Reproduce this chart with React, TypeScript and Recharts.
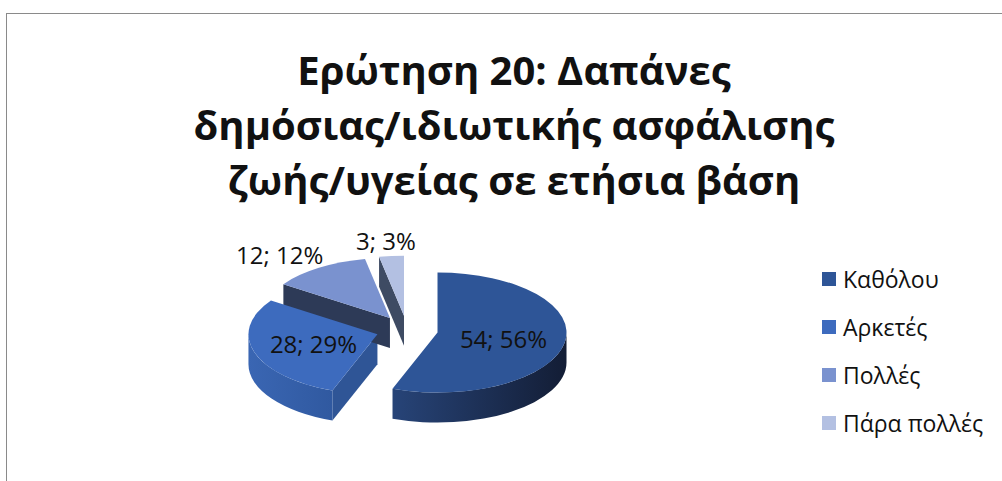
import React from 'react';
import { PieChart, Pie, Legend } from 'recharts';

// ---- data ----
const categories = ['Καθόλου', 'Αρκετές', 'Πολλές', 'Πάρα πολλές'];
const counts = [54, 28, 12, 3];
const titleLines = ['Ερώτηση 20: Δαπάνες', 'δημόσιας/ιδιωτικής ασφάλισης', 'ζωής/υγείας σε ετήσια βάση'];

// ---- styles ----
const topColors = ['#2E5597', '#3D6BBE', '#7A92CF', '#B3C0E2'];
const sideLight = ['#274478', '#3A66B3', '#2E3C5A', '#3F4C65'];
const sideDark = ['#131D35', '#3059A0', '#2A3652', '#3A465E'];
const radialColors = ['#1D3158', '#2F5596', '#2D3A57', '#3E4B63'];

const data = categories.map((name, i) => ({ name, value: counts[i] }));

const FONT = '"Open Sans", "Noto Sans", sans-serif';
const K = 60 / 129; // vertical squash of the tilted pie
const DEPTH = 30;
const EXPLODE = 31;
const RAD = Math.PI / 180;

function P(cx: number, cy: number, r: number, a: number): [number, number] {
  return [cx + r * Math.cos(a * RAD), cy - r * K * Math.sin(a * RAD)];
}

function idxOf(props: any): number {
  const n = props.name ?? props.payload?.name;
  const i = categories.indexOf(n);
  return i < 0 ? (props.index ?? 0) : i;
}

function apexOf(props: any): [number, number] {
  const { cx, cy, startAngle, endAngle } = props;
  const m = (startAngle + endAngle) / 2;
  return [cx + EXPLODE * Math.cos(m * RAD), cy - EXPLODE * K * Math.sin(m * RAD)];
}

function SideShape(props: any) {
  const { startAngle: s, endAngle: e, outerRadius: r } = props;
  const i = idxOf(props);
  const [ax, ay] = apexOf(props);
  const ry = r * K;
  const quad = (a: number) => {
    const [x, y] = P(ax, ay, r, a);
    return `M${ax},${ay} L${x},${y} L${x},${y + DEPTH} L${ax},${ay + DEPTH} Z`;
  };
  const parts: React.ReactNode[] = [];
  if (Math.sin((s + 90) * RAD) < -0.01) parts.push(<path key="rs" d={quad(s)} fill={radialColors[i]} />);
  if (Math.sin((e - 90) * RAD) < -0.01) parts.push(<path key="re" d={quad(e)} fill={radialColors[i]} />);
  const hi = Math.min(s, 0);
  const lo = Math.max(e, -180);
  const gid = `side-grad-${i}`;
  if (hi > lo) {
    const [x1, y1] = P(ax, ay, r, hi);
    const [x2, y2] = P(ax, ay, r, lo);
    const large = hi - lo > 180 ? 1 : 0;
    const d = `M${x1},${y1} A${r},${ry} 0 ${large} 1 ${x2},${y2} L${x2},${y2 + DEPTH} A${r},${ry} 0 ${large} 0 ${x1},${y1 + DEPTH} Z`;
    parts.push(<path key="c" d={d} fill={`url(#${gid})`} />);
  }
  return (
    <g>
      <defs>
        <linearGradient id={gid} x1="0" y1="0" x2="1" y2="0">
          <stop offset="0%" stopColor={sideLight[i]} />
          <stop offset="100%" stopColor={sideDark[i]} />
        </linearGradient>
      </defs>
      {parts}
    </g>
  );
}

function TopShape(props: any) {
  const { startAngle: s, endAngle: e, outerRadius: r } = props;
  const i = idxOf(props);
  const [ax, ay] = apexOf(props);
  const [sx, sy] = P(ax, ay, r, s);
  const [ex, ey] = P(ax, ay, r, e);
  const large = s - e > 180 ? 1 : 0;
  const d = `M${ax},${ay} L${sx},${sy} A${r},${r * K} 0 ${large} 1 ${ex},${ey} Z`;
  return <path d={d} fill={topColors[i]} />;
}

function renderLabel(props: any) {
  const { startAngle: s, endAngle: e, outerRadius: r, percent, value } = props;
  const [ax, ay] = apexOf(props);
  const m = (s + e) / 2;
  const text = `${value}; ${Math.round(percent * 100)}%`;
  const inside = percent > 0.2;
  let x: number;
  let y: number;
  if (inside) {
    [x, y] = P(ax, ay, r * 0.52, m);
  } else {
    const [px, py] = P(ax, ay, r * 1.2, m);
    const half = text.length * 6.5;
    x = px + Math.cos(m * RAD) * half;
    y = py - Math.sin(m * RAD) * 4;
  }
  return (
    <text
      x={x}
      y={y}
      textAnchor="middle"
      dominantBaseline="central"
      fill="#111"
      style={{ fontFamily: FONT, fontSize: 24 }}
    >
      {text}
    </text>
  );
}

function LegendContent() {
  return (
    <div style={{ fontFamily: FONT, fontSize: 23, color: '#111' }}>
      {categories.map((c, i) => (
        <div key={c} style={{ display: 'flex', alignItems: 'center', height: 48, whiteSpace: 'nowrap' }}>
          <span style={{ display: 'inline-block', width: 14, height: 14, background: topColors[i], marginRight: 7 }} />
          <span>{c}</span>
        </div>
      ))}
    </div>
  );
}

export default function App() {
  return (
    <div style={{ position: 'fixed', left: 0, top: 0, width: 1002, height: 481, overflow: 'hidden', background: '#fff' }}>
      <div
        style={{
          position: 'absolute',
          left: 6,
          top: 13,
          width: 1040,
          height: 520,
          border: '1px solid #8a8a8a',
          boxSizing: 'border-box',
        }}
      />
      <div style={{ position: 'absolute', left: 0, top: 0 }}>
        <PieChart width={1002} height={481} margin={{ top: 0, right: 0, bottom: 0, left: 0 }}>
          <Pie
            data={data}
            dataKey="value"
            nameKey="name"
            cx={407}
            cy={330}
            outerRadius={129}
            startAngle={90}
            endAngle={-270}
            stroke="none"
            isAnimationActive={false}
            shape={SideShape as any}
            inactiveShape={SideShape as any}
            activeShape={SideShape as any}
            legendType="none"
          />
          <Pie
            data={data}
            dataKey="value"
            nameKey="name"
            cx={407}
            cy={330}
            outerRadius={129}
            startAngle={90}
            endAngle={-270}
            stroke="none"
            isAnimationActive={false}
            shape={TopShape as any}
            inactiveShape={TopShape as any}
            activeShape={TopShape as any}
            label={renderLabel}
            labelLine={false}
          />
          <Legend
            layout="vertical"
            align="right"
            verticalAlign="middle"
            content={LegendContent as any}
            wrapperStyle={{ position: 'absolute', left: 822, top: 255, width: 180, right: 'auto', bottom: 'auto' }}
          />
        </PieChart>
      </div>
      <div
        style={{
          position: 'absolute',
          left: 114,
          top: 42,
          width: 800,
          textAlign: 'center',
          fontFamily: FONT,
          fontWeight: 700,
          fontSize: 40,
          lineHeight: '55px',
          color: '#111',
          whiteSpace: 'nowrap',
        }}
      >
        {titleLines.map((l) => (
          <div key={l}>{l}</div>
        ))}
      </div>
    </div>
  );
}
